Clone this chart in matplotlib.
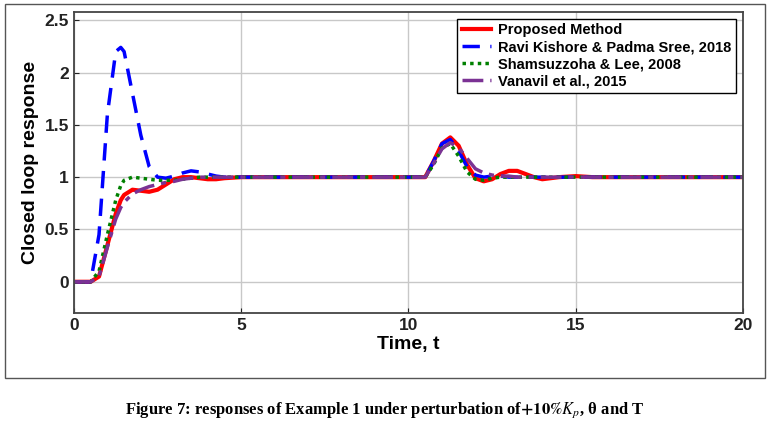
import matplotlib
matplotlib.use("Agg")
import matplotlib.pyplot as plt
from matplotlib.patches import Rectangle

plt.rcParams['mathtext.fontset'] = 'stix'

t = [0,0.5,0.75,1.0,1.25,1.4,1.5,1.75,2.0,2.25,2.5,2.75,3.0,3.25,3.5,3.75,4.0,4.25,4.5,5,6,8,10,10.5,10.75,11,11.25,11.5,11.75,12,12.25,12.5,12.75,13,13.25,13.5,13.75,14,14.25,14.5,15,15.5,16,20]
proposed = [0,0,.05,.35,.65,.78,.83,.88,.87,.86,.88,.93,.98,1,1,.99,.98,.98,.99,1,1,1,1,1,1.15,1.32,1.38,1.30,1.12,.99,.96,.98,1.03,1.06,1.06,1.03,1.0,.98,.99,1.0,1.01,1.0,1,1]
ravi = [0,0,.45,1.6,2.2,2.24,2.2,1.8,1.4,1.1,1.0,.99,1.01,1.04,1.06,1.05,1.03,1.01,1.0,1.0,1,1,1,1,1.15,1.32,1.36,1.25,1.1,1.02,1.0,1.01,1.01,1.0,1,1,1,1,1,1,1,1,1,1]
sham = [0,0,.1,.45,.78,.92,.97,1.0,.99,.98,.97,.97,.97,.98,.99,1.0,1,1,1,1,1,1,1,1,1.12,1.28,1.32,1.2,1.05,.98,.97,.99,1.0,1,1,1,1,1,1,1,1,1,1,1]
vana = [0,0,.05,.33,.6,.71,.76,.84,.88,.91,.93,.95,.96,.98,.99,1.0,1,1,1,1,1,1,1,1,1.13,1.27,1.33,1.28,1.18,1.08,1.04,1.02,1.01,1.01,1.0,1,1,1,1,1,1,1,1,1]
labels = ["Proposed Method", "Ravi Kishore & Padma Sree, 2018", "Shamsuzzoha & Lee, 2008", "Vanavil et al., 2015"]

fig = plt.figure(figsize=(7.7, 4.38), dpi=100)
fig.patches.append(Rectangle((0.007, 0.137), 0.986, 0.855, transform=fig.transFigure,
                             fill=False, edgecolor='#555555', lw=1))
ax = fig.add_axes([0.096, 0.285, 0.869, 0.688])
ax.plot(t, proposed, color='red', lw=3, label=labels[0])
ax.plot(t, ravi, color='blue', lw=2.5, ls=(0, (5, 3)), label=labels[1])
ax.plot(t, sham, color='green', lw=2.5, ls=(0, (1, 1.2)), label=labels[2])
ax.plot(t, vana, color='#7b3294', lw=2.5, ls=(0, (6, 2, 1.5, 2)), label=labels[3])
ax.set_xlim(0, 20)
ax.set_ylim(-0.3, 2.58)
ax.set_xticks([0, 5, 10, 15, 20])
ax.set_yticks([0, 0.5, 1, 1.5, 2, 2.5])
ax.set_yticklabels(['0', '0.5', '1', '1.5', '2', '2.5'])
ax.grid(True, color='#c8c8c8', lw=1)
for lab in ax.get_xticklabels() + ax.get_yticklabels():
    lab.set_fontweight('bold'); lab.set_fontsize(12.5); lab.set_fontfamily('Liberation Sans')
for s in ax.spines.values():
    s.set_color('#444444'); s.set_linewidth(1.3)
ax.tick_params(direction='in', colors='#222222')
ax.set_xlabel('Time, t', fontsize=14, fontweight='bold', family='Liberation Sans', labelpad=2)
ax.set_ylabel('Closed loop response', fontsize=14, fontweight='bold', family='Liberation Sans')
leg = ax.legend(loc='upper right', prop={'family': 'Liberation Sans', 'weight': 'bold', 'size': 10.5},
                handlelength=2.0, borderpad=0.3, labelspacing=0.2, handletextpad=0.5,
                fancybox=False, framealpha=1)
leg.get_frame().set_edgecolor('black')
fig.text(0.5, 0.055, r'Figure 7: responses of Example 1 under perturbation of$\mathbf{+10\%}K_p$, θ and T',
         ha='center', fontsize=12, fontweight='bold', family='Liberation Serif')
fig.savefig('out.png', dpi=100)
